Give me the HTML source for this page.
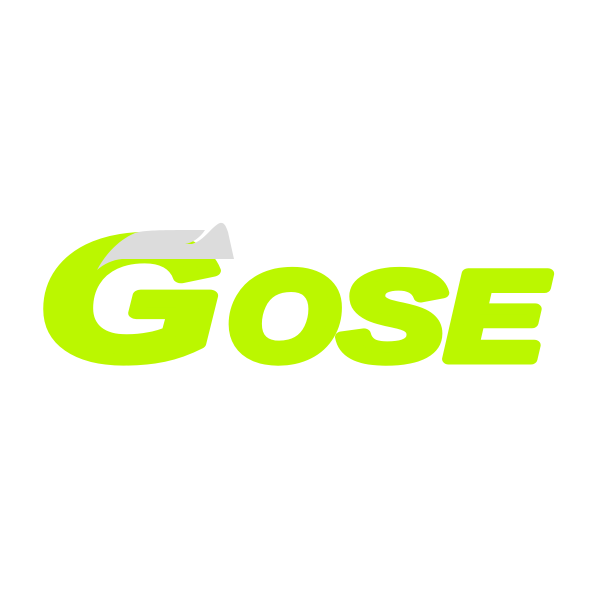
<!DOCTYPE html>
<html><head><meta charset="utf-8"><style>
html,body{margin:0;padding:0;background:#fff;width:600px;height:600px;overflow:hidden}
svg{display:block}
text{font-family:"Liberation Sans",sans-serif;font-weight:bold;font-style:italic;fill:#bbf700;stroke:#bbf700;stroke-linejoin:round}
</style></head><body>
<svg width="600" height="600" viewBox="0 0 600 600">
  <text x="40" y="358" font-size="172" stroke-width="12" textLength="180" lengthAdjust="spacingAndGlyphs">G</text>
  <path fill="#dcdcdc" d="M97,270 C105,255 118,240 135,233 C145,230 160,230 205,230 C200,238 192,243 185,244 L192,244 C205,240 212,226 220,223 C224,222 226,226 228,232 L234,259 L122,259 C112,260 104,264 97,270 Z"/>
  <text x="228" y="359" font-size="124" stroke-width="11" textLength="110" lengthAdjust="spacingAndGlyphs">O</text>
  <text x="340" y="359" font-size="124" stroke-width="11" textLength="104" lengthAdjust="spacingAndGlyphs">S</text>
  <text x="446" y="359" font-size="124" stroke-width="11" textLength="98" lengthAdjust="spacingAndGlyphs">E</text>
</svg>
</body></html>
